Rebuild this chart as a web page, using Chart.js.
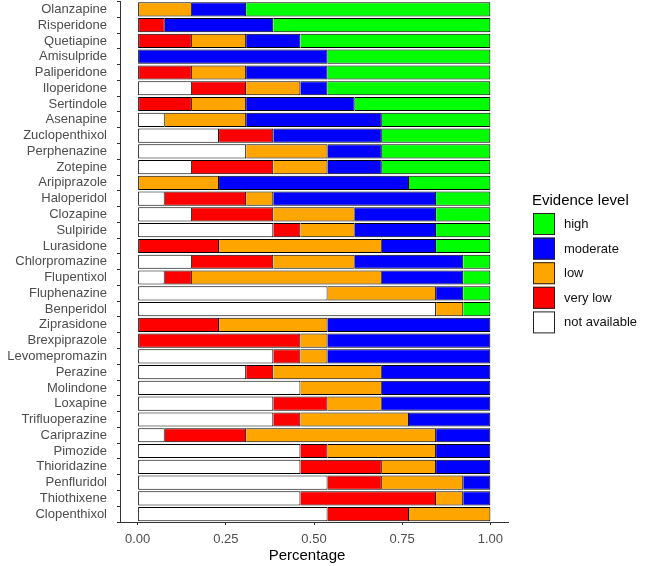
<!DOCTYPE html>
<html>
<head>
<meta charset="utf-8">
<script src="https://cdn.jsdelivr.net/npm/chart.js@4"></script>
<style>
  body { margin: 0; background: #fff; }
  #wrap { width: 646px; height: 566px; position: relative; }
</style>
</head>
<body>
<div id="wrap"><canvas id="grafico"></canvas></div>
<script>
const drugs = ['Olanzapine', 'Risperidone', 'Quetiapine', 'Amisulpride', 'Paliperidone', 'Iloperidone',
  'Sertindole', 'Asenapine', 'Zuclopenthixol', 'Perphenazine', 'Zotepine', 'Aripiprazole', 'Haloperidol',
  'Clozapine', 'Sulpiride', 'Lurasidone', 'Chlorpromazine', 'Flupentixol', 'Fluphenazine', 'Benperidol',
  'Ziprasidone', 'Brexpiprazole', 'Levomepromazin', 'Perazine', 'Molindone', 'Loxapine', 'Trifluoperazine',
  'Cariprazine', 'Pimozide', 'Thioridazine', 'Penfluridol', 'Thiothixene', 'Clopenthixol'];

const notAvailable = [0, 0, 0, 0, 0, 0.1538, 0, 0.0769, 0.2308, 0.3077, 0.1538, 0, 0.0769, 0.1538, 0.3846, 0, 0.1538,
  0.0769, 0.5385, 0.8462, 0, 0, 0.3846, 0.3077, 0.4615, 0.3846, 0.3846, 0.0769, 0.4615, 0.4615, 0.5385, 0.4615, 0.5385];
const veryLow = [0, 0.0769, 0.1538, 0, 0.1538, 0.1538, 0.1538, 0, 0.1538, 0, 0.2308, 0, 0.2308, 0.2308, 0.0769, 0.2308,
  0.2308, 0.0769, 0, 0, 0.2308, 0.4615, 0.0769, 0.0769, 0, 0.1538, 0.0769, 0.2308, 0.0769, 0.2308, 0.1538, 0.3846, 0.2308];
const low = [0.1538, 0, 0.1538, 0, 0.1538, 0.1538, 0.1538, 0.2308, 0, 0.2308, 0.1538, 0.2308, 0.0769, 0.2308, 0.1538,
  0.4615, 0.2308, 0.5385, 0.3077, 0.0769, 0.3077, 0.0769, 0.0769, 0.3077, 0.2308, 0.1538, 0.3077, 0.5385, 0.3077, 0.1538,
  0.2308, 0.0769, 0.2308];
const moderate = [0.1538, 0.3077, 0.1538, 0.5385, 0.2308, 0.0769, 0.3077, 0.3846, 0.3077, 0.1538, 0.1538, 0.5385, 0.4615,
  0.2308, 0.2308, 0.1538, 0.3077, 0.2308, 0.0769, 0, 0.4615, 0.4615, 0.4615, 0.3077, 0.3077, 0.3077, 0.2308, 0.1538,
  0.1538, 0.1538, 0.0769, 0.0769, 0];
const high = [0.6923, 0.6154, 0.5385, 0.4615, 0.4615, 0.4615, 0.3846, 0.3077, 0.3077, 0.3077, 0.3077, 0.2308, 0.1538,
  0.1538, 0.1538, 0.1538, 0.0769, 0.0769, 0.0769, 0.0769, 0, 0, 0, 0, 0, 0, 0, 0, 0, 0, 0, 0, 0];

const xTicks = [0, 0.25, 0.5, 0.75, 1];

const FONT = '"Liberation Sans", Arial, sans-serif';

// bar drawn without left border when something sits before it, so joints stay 1px
function skipStart(ctx) {
  let before = 0;
  for (let d = 0; d < ctx.datasetIndex; d++) {
    before += ctx.chart.data.datasets[d].data[ctx.dataIndex];
  }
  return before > 0 ? 'start' : false;
}

const legendBox = {
  id: 'legendBox',
  afterDraw(chart) {
    const c = chart.ctx;
    const sets = chart.data.datasets.slice().reverse();
    c.save();
    // axis title, ggplot puts it slightly left of the panel centre
    c.fillStyle = '#000';
    c.font = '15px ' + FONT;
    c.textAlign = 'center';
    c.textBaseline = 'middle';
    c.fillText('Percentage', 307, 556);

    c.textAlign = 'left';
    c.textBaseline = 'alphabetic';
    c.fillText('Evidence level', 532, 205);
    c.font = '13px ' + FONT;
    c.textBaseline = 'middle';
    sets.forEach((ds, i) => {
      const y = 213 + i * 24.6;
      c.fillStyle = ds.backgroundColor;
      c.fillRect(533, y, 22, 22);
      c.strokeStyle = '#222';
      c.lineWidth = 1;
      c.strokeRect(533.5, y + 0.5, 21, 21);
      c.fillStyle = '#111';
      c.fillText(ds.label, 564, y + 11.5);
    });
    c.restore();
  }
};

const ctx = document.getElementById('grafico').getContext('2d');
const series = [
  { label: 'not available', data: notAvailable, color: '#FFFFFF' },
  { label: 'very low', data: veryLow, color: '#FF0000' },
  { label: 'low', data: low, color: '#FFA500' },
  { label: 'moderate', data: moderate, color: '#0000FF' },
  { label: 'high', data: high, color: '#00FF00' }
];

new Chart(ctx, {
  type: 'bar',
  data: {
    labels: drugs,
    datasets: series.map(s => ({
      label: s.label,
      data: s.data,
      backgroundColor: s.color,
      borderColor: '#000',
      borderWidth: 1,
      borderSkipped: skipStart,
      barPercentage: 0.9,
      categoryPercentage: 1
    }))
  },
  options: {
    indexAxis: 'y',
    responsive: true,
    maintainAspectRatio: false,
    animation: false,
    layout: { padding: { top: 1.5, right: 138, bottom: 0, left: 0 } },
    plugins: { legend: { display: false }, tooltip: { enabled: false } },
    scales: {
      x: {
        stacked: true,
        min: -0.05,
        max: 1.05,
        afterBuildTicks: scale => { scale.ticks = xTicks.map(v => ({ value: v })); },
        afterFit: scale => { scale.height = 44; },
        grid: { drawOnChartArea: false, drawTicks: true, tickLength: 3, color: '#333' },
        border: { display: true, color: '#333', width: 1 },
        ticks: {
          padding: 7,
          color: '#4D4D4D',
          font: { family: FONT, size: 13 },
          callback: v => Number(v).toFixed(2)
        }
      },
      y: {
        stacked: true,
        afterFit: scale => {
          scale.width = 120;
          scale.paddingTop = 0;
          scale.paddingBottom = 0;
        },
        grid: { drawOnChartArea: false, drawTicks: true, tickLength: 3, color: '#333' },
        border: { display: true, color: '#333', width: 1 },
        ticks: {
          padding: 10,
          autoSkip: false,
          color: '#4D4D4D',
          font: { family: FONT, size: 13 }
        }
      }
    }
  },
  plugins: [legendBox]
});
</script>
</body>
</html>
